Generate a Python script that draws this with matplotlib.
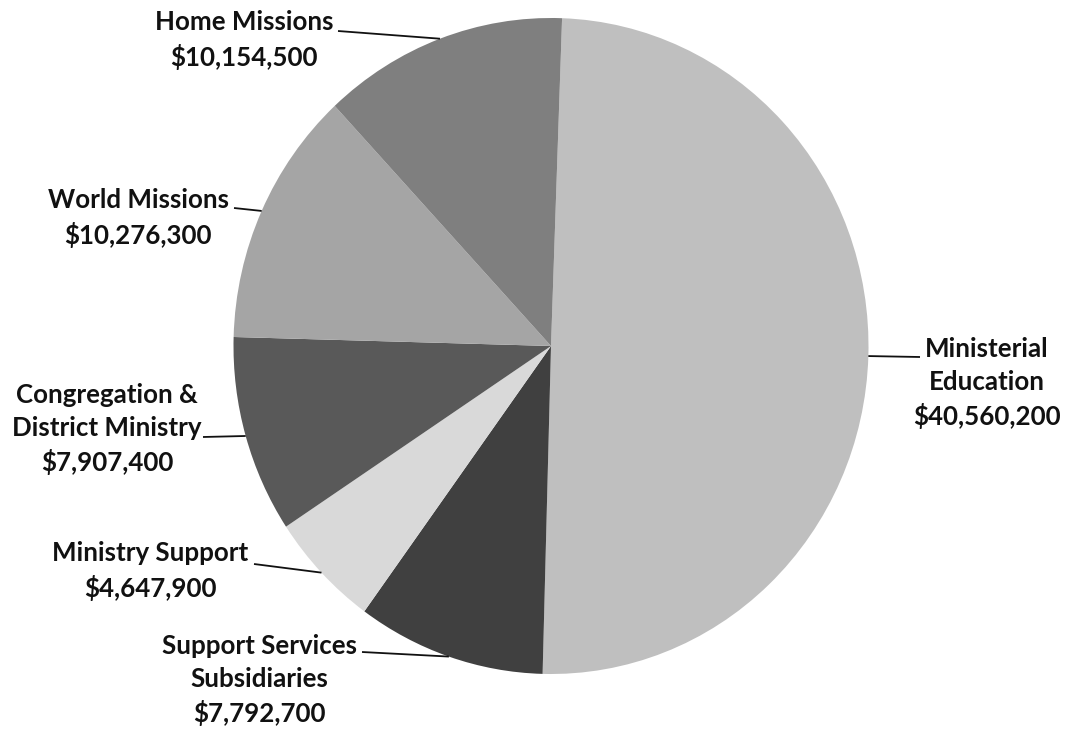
import numpy as np
import matplotlib
matplotlib.use("Agg")
import matplotlib.pyplot as plt

# Budget allocation by program area (dollars)
categories = [
    "Ministerial\nEducation",
    "Support Services\nSubsidiaries",
    "Ministry Support",
    "Congregation &\nDistrict Ministry",
    "World Missions",
    "Home Missions",
]
amounts = [40560200, 7792700, 4647900, 7907400, 10276300, 10154500]
colors = ["#BFBFBF", "#404040", "#D9D9D9", "#595959", "#A5A5A5", "#7F7F7F"]

W, H = 1066, 730
fig = plt.figure(figsize=(W / 100, H / 100), dpi=100)
ax = fig.add_axes([0, 0, 1, 1])

start = 88.0
wedges, _ = ax.pie(amounts, colors=colors, startangle=start, counterclock=False,
                   radius=1.0, wedgeprops=dict(linewidth=0))

# Pixel layout of the pie: centre and radii (slightly taller than wide)
cx, cy, rx, ry = 551.0, 346.0, 317.5, 328.0
ax.set_aspect("auto")
ax.set_xlim(-cx / rx, (W - cx) / rx)
ax.set_ylim(-(H - cy) / ry, cy / ry)
ax.axis("off")


def to_data(px, py):
    return (px - cx) / rx, (cy - py) / ry


# label block centres and leader-line start points, in pixels
label_centres = [(987, 383), (259, 680), (150, 571), (107, 429), (138, 218), (244, 40)]
leader_starts = [(920, 357), (362, 652), (254, 564), (203, 437), (234, 208), (338, 31)]

font = dict(family=["Lato", "DejaVu Sans"], fontweight="bold", fontsize=18.6,
            color="#111111")

for w, name, amt, (lx, ly), (sx, sy) in zip(wedges, categories, amounts,
                                             label_centres, leader_starts):
    mid = np.deg2rad((w.theta1 + w.theta2) / 2.0)
    ex, ey = np.cos(mid), np.sin(mid)
    tx, ty = to_data(lx, ly)
    ax.text(tx, ty, f"{name}\n${amt:,.0f}", ha="center", va="center",
            multialignment="center", linespacing=1.45, **font)
    x0, y0 = to_data(sx, sy)
    ax.plot([x0, ex], [y0, ey], color="#111111", lw=1.3, solid_capstyle="butt")

fig.savefig("out.png", dpi=100, facecolor="white")
